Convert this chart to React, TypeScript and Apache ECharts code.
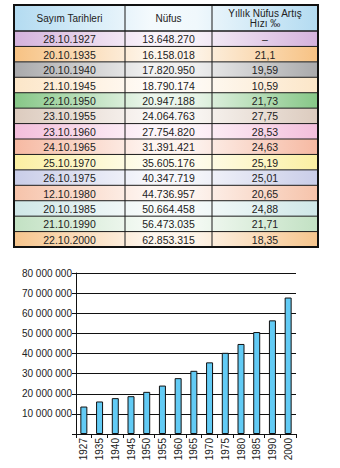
import React, { useEffect, useRef } from "react";
import * as echarts from "echarts";

const headers = ["Sayım Tarihleri", "Nüfus", "Yıllık Nüfus Artış\nHızı ‰"];
const censusDates = [
  "28.10.1927", "20.10.1935", "20.10.1940", "21.10.1945", "22.10.1950", "23.10.1955", "23.10.1960",
  "24.10.1965", "25.10.1970", "26.10.1975", "12.10.1980", "20.10.1985", "21.10.1990", "22.10.2000",
];
const populationText = [
  "13.648.270", "16.158.018", "17.820.950", "18.790.174", "20.947.188", "24.064.763", "27.754.820",
  "31.391.421", "35.605.176", "40.347.719", "44.736.957", "50.664.458", "56.473.035", "62.853.315",
];
const growthRate = [
  "–", "21,1", "19,59", "10,59", "21,73", "27,75", "28,53",
  "24,63", "25,19", "25,01", "20,65", "24,88", "21,71", "18,35",
];
const years = ["1927", "1935", "1940", "1945", "1950", "1955", "1960", "1965", "1970", "1975", "1980", "1985", "1990", "2000"];
const barPopulation = [
  13648270, 16158018, 17820950, 18790174, 20947188, 24064763, 27754820,
  31391421, 35605176, 40347719, 44736957, 50664458, 56473035, 67803927,
];

// styles
const headerColor = "#B3DBF1";
const rowEdgeColors = [
  "#D4B2DC", "#F7C283", "#A9A9AB", "#FCE6C8", "#86C787", "#DCCBBE", "#F3BEDB",
  "#F6B9A2", "#FBEFA2", "#C9CDE8", "#F6C3AA", "#CFE7E7", "#C2E1C3", "#F6C58D",
];

const FONT = "'Liberation Sans', Arial, sans-serif";

function lighten(hex: string, t: number) {
  const n = parseInt(hex.slice(1), 16);
  const r = (n >> 16) & 255, g = (n >> 8) & 255, b = n & 255;
  const f = (c: number) => Math.round(c + (255 - c) * t);
  return `rgb(${f(r)},${f(g)},${f(b)})`;
}

function grad(c: string) {
  return {
    type: "linear", x: 0, y: 0, x2: 1, y2: 0,
    colorStops: [
      { offset: 0, color: c },
      { offset: 0.45, color: lighten(c, 0.85) },
      { offset: 0.6, color: lighten(c, 0.8) },
      { offset: 1, color: c },
    ],
  };
}

function buildTable() {
  const L = 14, R = 318, T = 5, HH = 26;
  const cols = [14, 125, 212, 318];
  const rowH = 15.43;
  const els: any[] = [];
  const rowTop = (i: number) => T + HH + i * rowH;
  const bottom = rowTop(censusDates.length);
  els.push({ type: "rect", shape: { x: L, y: T, width: R - L, height: HH }, style: { fill: grad(headerColor) }, silent: true });
  censusDates.forEach((_, i) => {
    els.push({ type: "rect", shape: { x: L, y: rowTop(i), width: R - L, height: rowH }, style: { fill: grad(rowEdgeColors[i]) }, silent: true });
  });
  for (let i = 0; i <= censusDates.length; i++) {
    const y = rowTop(i);
    els.push({ type: "line", shape: { x1: L, y1: y, x2: R, y2: y }, style: { stroke: "#1a1a1a", lineWidth: i === 0 ? 1.5 : 1 }, silent: true });
  }
  [cols[1], cols[2]].forEach((x) => {
    els.push({ type: "line", shape: { x1: x, y1: T, x2: x, y2: bottom }, style: { stroke: "#1a1a1a", lineWidth: 1 }, silent: true });
  });
  els.push({ type: "rect", shape: { x: L, y: T, width: R - L, height: bottom - T }, style: { fill: "none", stroke: "#111", lineWidth: 2 }, silent: true });
  const centers = [0, 1, 2].map((c) => (cols[c] + cols[c + 1]) / 2);
  headers.forEach((h, c) => {
    els.push({
      type: "text", x: centers[c], y: T + HH / 2 + 0.5,
      style: { text: h, fill: "#222", font: `10px ${FONT}`, lineHeight: 10, align: "center", verticalAlign: "middle", textAlign: "center", textVerticalAlign: "middle" },
      silent: true,
    });
  });
  censusDates.forEach((d, i) => {
    const vals = [d, populationText[i], growthRate[i]];
    vals.forEach((v, c) => {
      els.push({
        type: "text", x: centers[c], y: rowTop(i) + rowH / 2 + 0.5,
        style: { text: v, fill: "#222", font: `10.5px ${FONT}`, align: "center", verticalAlign: "middle", textAlign: "center", textVerticalAlign: "middle" },
        silent: true,
      });
    });
  });
  return els;
}

export default function App() {
  const ref = useRef<HTMLDivElement>(null);
  useEffect(() => {
    const chart = echarts.init(ref.current!, null, { renderer: "svg" });
    chart.setOption({
      animation: false,
      backgroundColor: "#fff",
      graphic: { elements: buildTable() },
      grid: { left: 76, right: 44, top: 273, bottom: 34 },
      xAxis: {
        type: "category",
        data: years,
        boundaryGap: true,
        axisLine: { lineStyle: { color: "#111", width: 1 } },
        axisTick: { show: true, length: 4, lineStyle: { color: "#111" } },
        axisLabel: { rotate: 90, margin: 4, fontSize: 10, color: "#222", fontFamily: FONT },
      },
      yAxis: {
        type: "value",
        min: 0,
        max: 80000000,
        interval: 10000000,
        axisLine: { show: true, lineStyle: { color: "#111", width: 1 } },
        axisTick: { show: true, length: 4, lineStyle: { color: "#111" } },
        splitLine: { show: true, lineStyle: { color: "#111", width: 1 } },
        axisLabel: {
          margin: 4,
          fontSize: 10,
          color: "#222",
          fontFamily: FONT,
          formatter: (v: number) => (v === 0 ? "" : String(Math.round(v)).replace(/\B(?=(\d{3})+(?!\d))/g, " ")),
        },
      },
      series: [
        {
          type: "bar",
          data: barPopulation,
          barWidth: 7,
          itemStyle: { color: "#62CBF5", borderColor: "#111", borderWidth: 1 },
          z: 3,
        },
      ],
    });
    return () => chart.dispose();
  }, []);
  return <div ref={ref} style={{ position: "absolute", left: 0, top: 0, width: 340, height: 468 }} />;
}
